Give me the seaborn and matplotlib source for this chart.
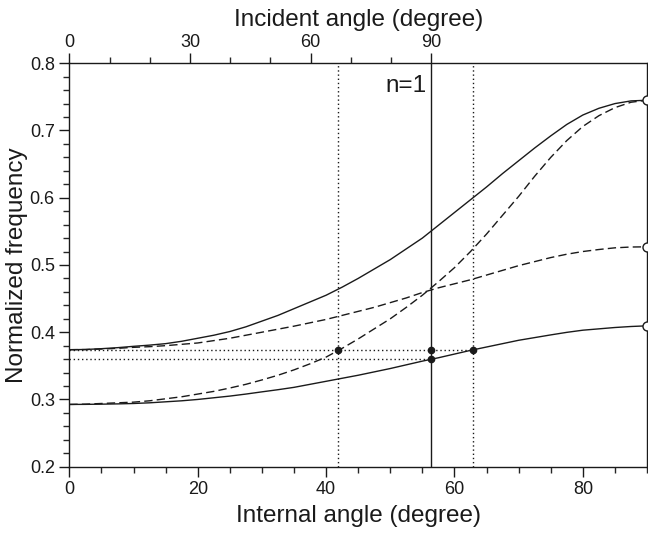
import matplotlib
matplotlib.use("Agg")
import matplotlib.pyplot as plt
from matplotlib.ticker import MultipleLocator, FixedLocator
import seaborn as sns

# internal angle grid (degree)
angle = [0, 2.5, 5, 7.5, 10, 12.5, 15, 17.5, 20, 22.5, 25, 27.5, 30, 32.5, 35, 37.5,
         40, 42.5, 45, 47.5, 50, 52.5, 55, 57.5, 60, 62.5, 65, 67.5, 70, 72.5, 75,
         77.5, 80, 82.5, 85, 87.5, 90]

# normalized frequency
upper_solid = [0.374, 0.3743, 0.3755, 0.377, 0.379, 0.3808, 0.383, 0.3865, 0.391,
               0.3955, 0.401, 0.408, 0.4165, 0.425, 0.435, 0.445, 0.455, 0.467, 0.480,
               0.494, 0.508, 0.524, 0.540, 0.559, 0.578, 0.597, 0.616, 0.636, 0.655,
               0.674, 0.692, 0.709, 0.723, 0.733, 0.740, 0.744, 0.745]
upper_dashed = [0.374, 0.3742, 0.375, 0.376, 0.3775, 0.3785, 0.380, 0.382, 0.384,
                0.3875, 0.391, 0.3955, 0.400, 0.4045, 0.409, 0.414, 0.419, 0.425, 0.431,
                0.437, 0.444, 0.451, 0.459, 0.466, 0.472, 0.478, 0.485, 0.492, 0.499,
                0.505, 0.511, 0.516, 0.520, 0.523, 0.5255, 0.5267, 0.527]
steep_dashed = [0.2926, 0.293, 0.294, 0.295, 0.296, 0.298, 0.301, 0.304, 0.308, 0.312,
                0.317, 0.3225, 0.329, 0.336, 0.344, 0.353, 0.363, 0.376, 0.390, 0.405,
                0.420, 0.437, 0.455, 0.475, 0.496, 0.520, 0.546, 0.574, 0.602, 0.632,
                0.660, 0.685, 0.706, 0.722, 0.734, 0.742, 0.745]
lower_solid = [0.2926, 0.2927, 0.293, 0.2934, 0.294, 0.295, 0.2965, 0.298, 0.300,
               0.3025, 0.305, 0.308, 0.3113, 0.3145, 0.318, 0.3225, 0.327, 0.3315,
               0.336, 0.341, 0.346, 0.3515, 0.357, 0.362, 0.3675, 0.373, 0.378, 0.383,
               0.388, 0.392, 0.396, 0.3998, 0.403, 0.405, 0.407, 0.4085, 0.4095]

# guide lines and marked points
n1_angle = 56.4
dot_angles = [41.8, 62.9]
level_hi = 0.374
level_lo = 0.360
filled_x = [41.8, 56.4, 62.9, 56.4]
filled_y = [0.374, 0.374, 0.374, 0.360]
open_x = [90, 90, 90]
open_y = [0.745, 0.527, 0.4095]

sns.set_style("ticks")
plt.rcParams["font.family"] = ["Liberation Sans", "DejaVu Sans"]

ink = "#1a1a1a"
fig = plt.figure(figsize=(6.48, 5.36), dpi=100)
ax = fig.add_axes([0.107, 0.1293, 0.8915, 0.7527])

for vals, style in [(upper_solid, "-"), (lower_solid, "-"),
                    (upper_dashed, "--"), (steep_dashed, "--")]:
    line = sns.lineplot(x=angle, y=vals, ax=ax, color=ink, lw=1.0)
    if style == "--":
        line.lines[-1].set_dashes((6, 3))

# guides
ax.axvline(n1_angle, color=ink, lw=1.0)
for a in dot_angles:
    ax.axvline(a, color=ink, lw=1.0, dashes=(1, 2))
ax.plot([0, dot_angles[1]], [level_hi, level_hi], color=ink, lw=1.0, dashes=(1, 2))
ax.plot([0, n1_angle], [level_lo, level_lo], color=ink, lw=1.0, dashes=(1, 2))

ax.plot(filled_x, filled_y, "o", color=ink, ms=4.5, zorder=5)
ax.plot(open_x, open_y, "o", mfc="white", mec=ink, mew=1.0, ms=6.5,
        clip_on=False, zorder=6)

ax.text(55.6, 0.766, "n=1", ha="right", va="center", fontsize=17.5, color=ink)

ax.set_xlim(0, 90)
ax.set_ylim(0.2, 0.8)
ax.xaxis.set_major_locator(MultipleLocator(20))
ax.xaxis.set_minor_locator(MultipleLocator(5))
ax.yaxis.set_major_locator(MultipleLocator(0.1))
ax.yaxis.set_minor_locator(MultipleLocator(0.02))
ax.set_yticklabels([f"{v:.1f}" for v in ax.get_yticks()])
ax.tick_params(which="major", length=7, width=1.0, direction="out", labelsize=13,
               colors=ink, top=False, right=False)
ax.tick_params(which="minor", length=4, width=1.0, direction="out",
               top=False, right=False)
ax.set_xlabel("Internal angle (degree)", fontsize=17.5, color=ink, labelpad=5)
ax.set_ylabel("Normalized frequency", fontsize=17.5, color=ink, labelpad=1)
for s in ax.spines.values():
    s.set_linewidth(1.0)
    s.set_color(ink)

# top axis: incident angle, 90 degree at the n=1 line
k = 90.0 / n1_angle
top = ax.secondary_xaxis("top", functions=(lambda x: x * k, lambda x: x / k))
top.xaxis.set_major_locator(FixedLocator([0, 30, 60, 90]))
top.xaxis.set_minor_locator(FixedLocator([10, 20, 40, 50, 70, 80]))
top.tick_params(which="major", length=7, width=1.0, labelsize=13, colors=ink, pad=1.5)
top.tick_params(which="minor", length=4, width=1.0)
top.set_xlabel("Incident angle (degree)", fontsize=17.5, color=ink, labelpad=6)
top.spines["top"].set_visible(False)

fig.savefig("out.png", dpi=100)
